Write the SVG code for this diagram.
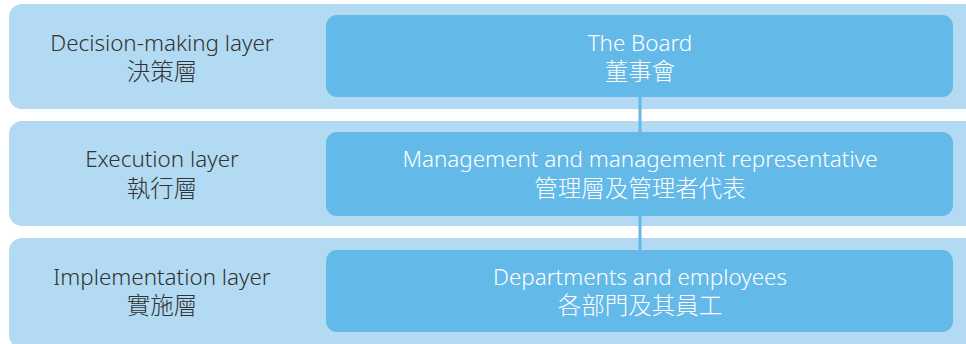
<svg xmlns="http://www.w3.org/2000/svg" width="966" height="344" viewBox="0 0 966 344">
<style>
.band{fill:#b2daf2}
.box{fill:#63b9e8}
.lbl{font-family:"Noto Sans","Noto Sans CJK TC",sans-serif;font-size:22.4px;font-weight:300;fill:#333;text-anchor:middle}
.wt{font-family:"Noto Sans","Noto Sans CJK TC",sans-serif;font-size:22.4px;font-weight:300;fill:#fff;text-anchor:middle}
.cn{font-family:"Noto Sans CJK TC",sans-serif;font-size:23.5px;font-weight:300}
.conn{stroke:#63b9e8;stroke-width:3;fill:none}
</style>
<g id="layer-decision">
<rect class="band" x="9" y="4" width="980" height="105" rx="13"/>
<text class="lbl" x="162" y="50.5">Decision-making layer</text>
<text class="lbl cn" x="162" y="80">決策層</text>
</g>
<g id="layer-execution">
<rect class="band" x="9" y="121" width="980" height="105" rx="13"/>
<text class="lbl" x="162" y="166.5">Execution layer</text>
<text class="lbl cn" x="162" y="197">執行層</text>
</g>
<g id="layer-implementation">
<rect class="band" x="9" y="238" width="980" height="110" rx="13"/>
<text class="lbl" x="162" y="284.5">Implementation layer</text>
<text class="lbl cn" x="162" y="314">實施層</text>
</g>
<g id="connectors">
<line class="conn" x1="640" y1="97" x2="640" y2="132"/>
<line class="conn" x1="640" y1="216" x2="640" y2="250"/>
</g>
<g id="node-board">
<rect class="box" x="326" y="15" width="627" height="82" rx="11"/>
<text class="wt" x="640" y="50.5">The Board</text>
<text class="wt cn" x="640" y="80">董事會</text>
</g>
<g id="node-management">
<rect class="box" x="326" y="132" width="627" height="84" rx="11"/>
<text class="wt" x="640" y="166.5">Management and management representative</text>
<text class="wt cn" x="640" y="197">管理層及管理者代表</text>
</g>
<g id="node-departments">
<rect class="box" x="326" y="250" width="627" height="82" rx="11"/>
<text class="wt" x="640" y="284.5">Departments and employees</text>
<text class="wt cn" x="640" y="314">各部門及其員工</text>
</g>
</svg>
